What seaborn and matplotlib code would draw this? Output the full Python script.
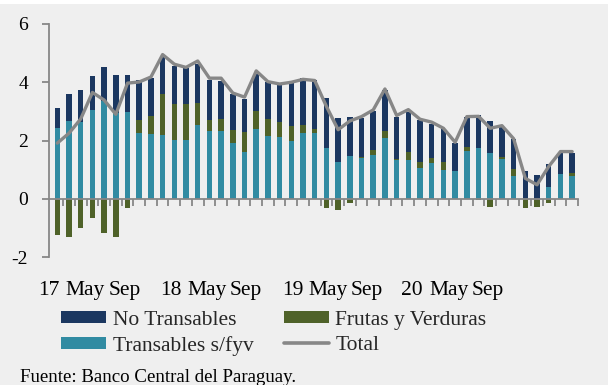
import matplotlib
matplotlib.use("Agg")
import numpy as np
import pandas as pd
import matplotlib.pyplot as plt
import seaborn as sns
from matplotlib.lines import Line2D
from matplotlib.patches import Patch, Rectangle

# Monthly contributions to inflation (p.p.), Jan 2017 - Sep 2020
months = pd.date_range("2017-01-01", "2020-09-01", freq="MS").strftime("%Y-%m").tolist()

transables = [2.43, 2.67, 2.65, 3.04, 3.34, 2.93, 2.98, 2.26, 2.22,
              2.18, 2.01, 2.03, 2.53, 2.32, 2.33, 1.92, 1.61, 2.38,
              2.15, 2.13, 1.99, 2.26, 2.25, 1.74, 1.26, 1.46, 1.39,
              1.50, 2.08, 1.33, 1.33, 1.06, 1.22, 0.97, 0.96, 1.63,
              1.74, 1.58, 1.36, 0.79, 0.00, 0.00, 0.39, 0.85, 0.78]

frutas = [-1.23, -1.33, -1.00, -0.66, -1.18, -1.33, -0.32, 0.44, 0.61,
          1.41, 1.25, 1.24, 0.76, 0.38, 0.40, 0.43, 0.69, 0.64,
          0.58, 0.50, 0.50, 0.28, 0.14, -0.32, -0.38, -0.13, 0.05,
          0.18, 0.26, 0.04, 0.27, 0.21, 0.17, 0.30, 0.00, 0.14,
          -0.05, -0.30, 0.09, 0.24, -0.32, -0.30, -0.16, 0.00, 0.09]

no_transables = [0.70, 0.92, 1.08, 1.19, 1.20, 1.33, 1.28, 1.37, 1.31,
                 1.26, 1.30, 1.21, 1.35, 1.38, 1.32, 1.24, 1.13, 1.28,
                 1.27, 1.29, 1.48, 1.61, 1.68, 1.72, 1.52, 1.35, 1.33,
                 1.35, 1.40, 1.44, 1.37, 1.43, 1.19, 1.11, 0.94, 1.04,
                 1.13, 1.09, 1.03, 1.03, 0.94, 0.80, 0.82, 0.77, 0.71]

total = [1.91, 2.25, 2.74, 3.65, 3.39, 2.90, 3.97, 4.01, 4.18,
         4.95, 4.62, 4.51, 4.73, 4.14, 4.14, 3.63, 3.49, 4.39,
         4.02, 3.94, 4.00, 4.10, 4.06, 3.17, 2.37, 2.67, 2.82,
         3.05, 3.77, 2.86, 3.06, 2.73, 2.63, 2.42, 1.94, 2.82,
         2.83, 2.42, 2.51, 2.06, 0.70, 0.48, 1.11, 1.62, 1.62]

tick_labels = ["17", "May", "Sep", "18", "May", "Sep",
               "19", "May", "Sep", "20", "May", "Sep"]
legend_labels = ["No Transables", "Transables s/fyv", "Frutas y Verduras", "Total"]

NAVY = "#1b3760"
TEAL = "#318ba2"
GREEN = "#4f6229"
GRAY = "#878787"
BG = "#efefef"

sns.set_theme(style="white")
plt.rcParams["font.family"] = ["Liberation Serif", "DejaVu Serif"]
plt.rcParams["axes.unicode_minus"] = False

W, H = 608, 385
fig = plt.figure(figsize=(W / 100, H / 100), dpi=100, facecolor=BG)
ax = fig.add_axes([49 / W, 128 / H, (578 - 49) / W, (361 - 128) / H])
ax.set_facecolor(BG)

df = pd.DataFrame({"month": months, "trans": transables, "fyv": frutas,
                   "nt": no_transables, "total": total})
fyv_pos = df["fyv"].clip(lower=0)
fyv_neg = df["fyv"].clip(upper=0)

bar_kw = dict(saturation=1, width=0.47, errorbar=None, linewidth=0, ax=ax)
sns.barplot(x=df["month"], y=df["trans"], color=TEAL, **bar_kw)
sns.barplot(x=df["month"], y=fyv_pos, bottom=df["trans"].to_numpy(), color=GREEN, **bar_kw)
sns.barplot(x=df["month"], y=fyv_neg, color=GREEN, **bar_kw)
sns.barplot(x=df["month"], y=df["nt"], bottom=(df["trans"] + fyv_pos).to_numpy(),
            color=NAVY, **bar_kw)
sns.lineplot(x=np.arange(len(df)), y=df["total"], color=GRAY, linewidth=2.4, ax=ax)

n = len(df)
ax.set_xlim(-0.5, n - 0.5)
ax.set_ylim(-2, 6)
ax.set_xlabel("")
ax.set_ylabel("")

# axes styling
for side in ("top", "right"):
    ax.spines[side].set_visible(False)
ax.spines["bottom"].set_position(("data", 0))
for side in ("left", "bottom"):
    ax.spines[side].set_color(GRAY)
    ax.spines[side].set_linewidth(1.3)

ax.set_yticks([-2, 0, 2, 4, 6])
ax.set_yticklabels(["-2", "0", "2", "4", "6"])
ax.tick_params(axis="y", direction="out", length=5, width=1.3, color=GRAY,
               labelsize=14, pad=10, left=True, labelcolor="black")

# month separators along the zero line
ax.set_xticks(np.arange(n) + 0.5, minor=True)
ax.tick_params(axis="x", which="minor", direction="out", length=5, width=1.3,
               color=GRAY, bottom=True)

# period labels below the plot area
label_pos = [-0.71, 2.41, 5.74, 9.70, 12.77, 16.09, 20.09, 23.15, 26.47, 30.3, 33.45, 36.77]
ax.set_xticks(label_pos)
ax.set_xticklabels(tick_labels)
ax.tick_params(axis="x", which="major", length=0, pad=59, labelsize=15.5,
               labelcolor="black")

# legend fills column by column: left column bars, right column greens/line
handles = [Patch(facecolor=NAVY, edgecolor="none"),
           Patch(facecolor=TEAL, edgecolor="none"),
           Patch(facecolor=GREEN, edgecolor="none"),
           Line2D([], [], color=GRAY, linewidth=2.6)]
fig.legend(handles, legend_labels, ncol=2, loc="upper left",
           bbox_to_anchor=(61 / W, 1 - 311 / H), frameon=False, fontsize=15.5,
           handlelength=2.1, handleheight=0.48, handletextpad=0.3,
           columnspacing=1.4, labelspacing=0.26, borderpad=0, borderaxespad=0)

fig.text(20 / W, 1 - 377 / H, "Fuente: Banco Central del Paraguay.",
         fontsize=13.6, va="center", ha="left", color="black")

fig.patches.append(Rectangle((0, 1 - 4 / H), 1, 4 / H, transform=fig.transFigure,
                             facecolor="white", edgecolor="none", zorder=-1))

fig.savefig("out.png", dpi=100, facecolor=BG)
